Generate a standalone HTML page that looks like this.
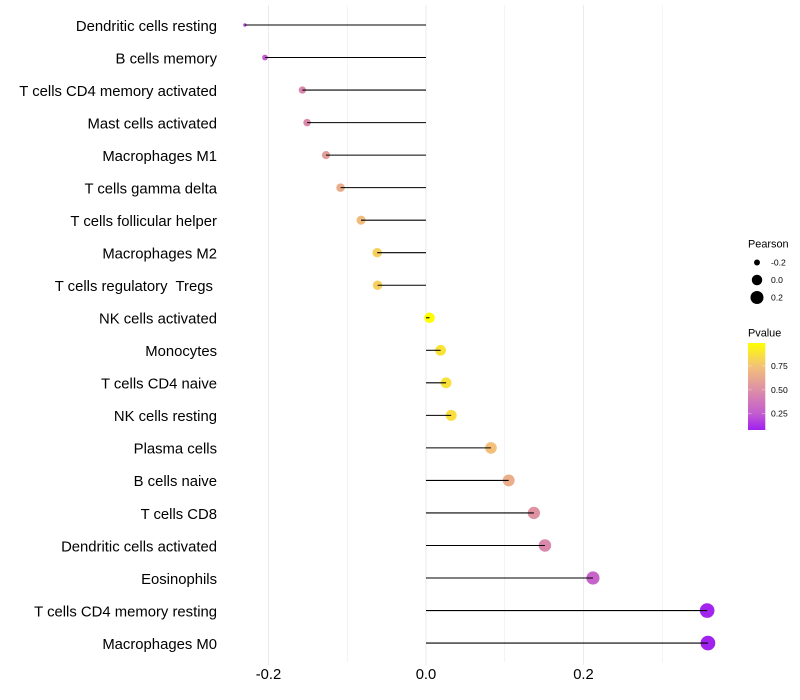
<!DOCTYPE html>
<html>
<head>
<meta charset="utf-8">
<title>Lollipop chart of immune cell correlation</title>
<style>
html,body{margin:0;padding:0;background:#fff;}
svg{display:block;font-family:"Liberation Sans",Arial,sans-serif;}
</style>
</head>
<body>
<svg id="chart" width="800" height="700" viewBox="0 0 800 700" xmlns="http://www.w3.org/2000/svg">
<defs>
<linearGradient id="pvalue-gradient" x1="0" y1="1" x2="0" y2="0"></linearGradient>
</defs>
<rect width="800" height="700" fill="#ffffff"/>
<g id="grid"></g>
<g id="points"></g>
<g id="stems"></g>
<g id="ylabels"></g>
<g id="xlabels"></g>
<g id="size-legend">
<text x="748" y="247.5" font-size="10.9" fill="#000">Pearson</text>
</g>
<g id="color-legend">
<text x="748" y="336.5" font-size="10.9" fill="#000">Pvalue</text>
<rect x="748" y="343" width="17.3" height="87" fill="url(#pvalue-gradient)"/>
</g>
</svg>
<script>
const categories = ["Dendritic cells resting","B cells memory","T cells CD4 memory activated","Mast cells activated","Macrophages M1","T cells gamma delta","T cells follicular helper","Macrophages M2","T cells regulatory  Tregs ","NK cells activated","Monocytes","T cells CD4 naive","NK cells resting","Plasma cells","B cells naive","T cells CD8","Dendritic cells activated","Eosinophils","T cells CD4 memory resting","Macrophages M0"];
const pearson = [-0.230,-0.2045,-0.157,-0.151,-0.127,-0.1085,-0.0825,-0.062,-0.0615,0.0045,0.0185,0.0255,0.032,0.0825,0.105,0.137,0.151,0.212,0.357,0.358];
const pvalues = [0.20,0.26,0.46,0.47,0.57,0.65,0.72,0.80,0.80,0.99,0.88,0.87,0.86,0.74,0.65,0.52,0.46,0.29,0.09,0.085];
const xMajorTicks = [-0.2,0,0.2];
const xMinorTicks = [-0.1,0.1,0.3];
const sizeLegendValues = [-0.2,0,0.2];
const colorLegendTicks = [0.25,0.5,0.75];
const colorStopValues = [0.08,0.25,0.5,0.75,0.99];
const colorStopHex = ["#a020f0","#c35cd0","#dd8fa6","#f3c277","#ffff00"];

const NS = "http://www.w3.org/2000/svg";
const xScale = v => 426 + v * 787.5;
const yScale = i => 25 + i * 32.53;
const pMin = Math.min(...pearson), pMax = Math.max(...pearson);
const diameter = v => {
  const t = Math.max(0, (v - pMin) / (pMax - pMin));
  return 3.4 + Math.sqrt(t) * 11.3;
};
const legendPY = p => 430 - (p - 0.08) * 95.6;
function hexRgb(h){return [1,3,5].map(k=>parseInt(h.substr(k,2),16));}
function colorFor(p){
  let k = 0;
  while (k < colorStopValues.length - 2 && p > colorStopValues[k+1]) k++;
  const t = Math.min(1, Math.max(0, (p - colorStopValues[k]) / (colorStopValues[k+1] - colorStopValues[k])));
  const a = hexRgb(colorStopHex[k]), b = hexRgb(colorStopHex[k+1]);
  return "rgb(" + a.map((c,n)=>Math.round(c + (b[n]-c)*t)).join(",") + ")";
}
function mk(tag, attrs, parent){
  const el = document.createElementNS(NS, tag);
  for (const k in attrs) el.setAttribute(k, attrs[k]);
  parent.appendChild(el);
  return el;
}
const grid = document.getElementById("grid");
const points = document.getElementById("points");
const stems = document.getElementById("stems");
const ylabels = document.getElementById("ylabels");
const xlabels = document.getElementById("xlabels");
const sizeLegend = document.getElementById("size-legend");
const colorLegend = document.getElementById("color-legend");
const grad = document.getElementById("pvalue-gradient");

colorStopValues.forEach((v,i)=>{
  const s = mk("stop",{offset:((v-0.08)/(0.99-0.08)),"stop-color":colorStopHex[i]},grad);
  
  
});

xMinorTicks.forEach(v=>{
  const l = mk("line",{x1:xScale(v),x2:xScale(v),y1:5,y2:662,stroke:"#ebebeb","stroke-width":0.55},grid);
  
  
});
xMajorTicks.forEach(v=>{
  const l = mk("line",{x1:xScale(v),x2:xScale(v),y1:5,y2:665,stroke:"#ebebeb","stroke-width":1.05},grid);
  
  
  const t = mk("text",{x:xScale(v),y:679.2,"text-anchor":"middle","font-size":14.8,fill:"#000"},xlabels);
  
  
  t.textContent = v.toFixed(1);
});

categories.forEach((name,i)=>{
  const y = yScale(i), x = xScale(pearson[i]);
  const c = mk("circle",{cx:x,cy:y,r:diameter(pearson[i])/2,fill:colorFor(pvalues[i])},points);
  
  
  const l = mk("line",{x1:xScale(0),x2:x,y1:y,y2:y,stroke:"#000","stroke-width":1.05},stems);
  
  
  const t = mk("text",{x:217,y:y+5.8,"text-anchor":"end","font-size":14.85,fill:"#000"},ylabels);
  
  
  t.setAttribute("xml:space","preserve");
  t.style.whiteSpace = "pre";
  t.textContent = name;
});

sizeLegendValues.forEach((v,i)=>{
  const y = 262.5 + i * 17.5;
  const c = mk("circle",{cx:757,cy:y,r:diameter(v)/2,fill:"#000"},sizeLegend);
  
  
  const t = mk("text",{x:771,y:y+3,"font-size":8.6,fill:"#000"},sizeLegend);
  
  
  t.textContent = v.toFixed(1);
});

colorLegendTicks.forEach(p=>{
  const y = legendPY(p);
  const a = mk("line",{x1:748,x2:751.5,y1:y,y2:y,stroke:"#fff","stroke-opacity":0.6,"stroke-width":0.6},colorLegend);
  
  
  const b = mk("line",{x1:761.8,x2:765.3,y1:y,y2:y,stroke:"#fff","stroke-opacity":0.6,"stroke-width":0.6},colorLegend);
  
  
  const t = mk("text",{x:771,y:y+3,"font-size":8.6,fill:"#000"},colorLegend);
  
  
  t.textContent = p.toFixed(2);
});
</script>
</body>
</html>
